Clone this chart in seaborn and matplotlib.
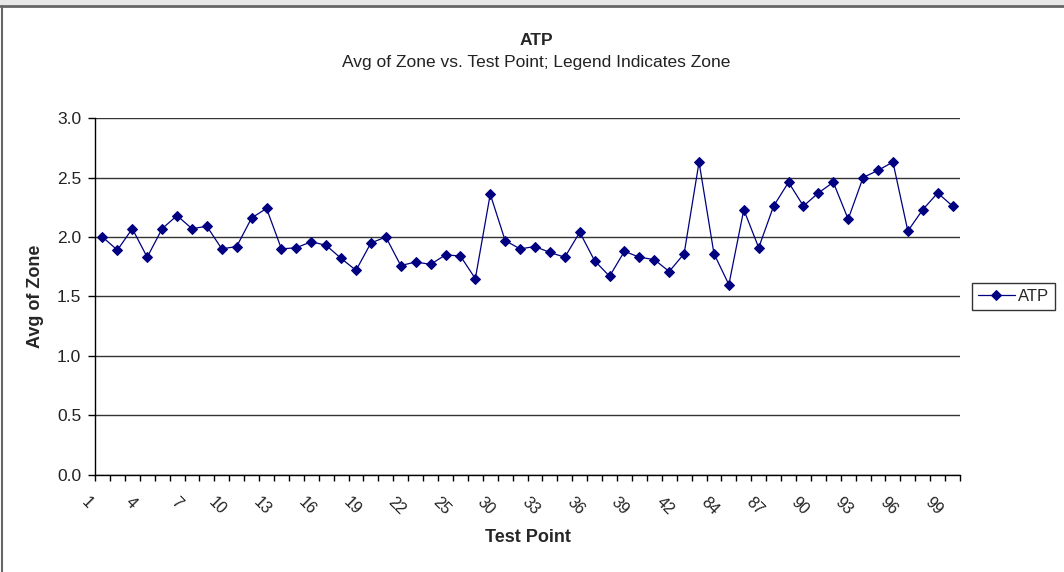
import matplotlib
matplotlib.use("Agg")
import matplotlib.pyplot as plt
import seaborn as sns
import pandas as pd
from matplotlib.lines import Line2D
from matplotlib.patches import Rectangle

# Testpunkte (Kategorien) und Mittelwerte der Zone
test_points = [1, 2, 3, 4, 5, 6, 7, 8, 9, 10, 11, 12, 13, 14, 15, 16, 17, 18, 19, 20,
               21, 22, 23, 24, 25, 26, 28, 30, 31, 32, 33, 34, 35, 36, 37, 38, 39, 40,
               41, 42, 44, 80, 84, 85, 86, 87, 88, 89, 90, 91, 92, 93, 94, 95, 96, 97,
               98, 99]
avg_zone = [2.00, 1.89, 2.07, 1.83, 2.07, 2.18, 2.07, 2.09, 1.90, 1.92,
            2.16, 2.24, 1.90, 1.91, 1.96, 1.93, 1.82, 1.72, 1.95, 2.00,
            1.76, 1.79, 1.77, 1.85, 1.84, 1.65, 2.36, 1.97, 1.90, 1.92,
            1.87, 1.83, 2.04, 1.80, 1.67, 1.88, 1.83, 1.81, 1.71, 1.86,
            2.63, 1.86, 1.60, 2.23, 1.91, 2.26, 2.46, 2.26, 2.37, 2.46,
            2.15, 2.50, 2.56, 2.63, 2.05, 2.23, 2.37, 2.26]
y_ticks = [0.0, 0.5, 1.0, 1.5, 2.0, 2.5, 3.0]

df = pd.DataFrame({"pos": range(len(test_points)), "Test Point": test_points,
                   "Avg of Zone": avg_zone})

sns.set_style("white")
plt.rcParams["font.family"] = ["Liberation Sans", "DejaVu Sans"]

fig = plt.figure(figsize=(10.64, 5.72), dpi=100)
ax = fig.add_axes([0.0893, 0.1696, 0.8130, 0.6241])

sns.lineplot(data=df, x="pos", y="Avg of Zone", ax=ax, color="#000080",
             marker="D", markersize=5.5, markeredgecolor="#000080",
             linewidth=0.9, label="ATP")

n = len(test_points)
ax.set_xlim(-0.5, n - 0.5)
ax.set_ylim(0, 3.0)
ax.set_yticks(y_ticks)
ax.set_yticklabels([f"{v:.1f}" for v in y_ticks], fontsize=12.5, color="#222222")
ax.yaxis.grid(True, color="#333333", linewidth=1.0)
ax.set_axisbelow(True)

# Ticks an Kategoriegrenzen, Beschriftung jede dritte Kategorie
bounds = [k - 0.5 for k in range(n + 1)]
labels = [str(test_points[k]) if (k % 3 == 0 and k < n) else "" for k in range(n + 1)]
ax.set_xticks(bounds)
ax.set_xticklabels(labels, rotation=-45, ha="right", fontsize=11.5, color="#222222")
ax.tick_params(axis="x", direction="out", length=4, width=1, color="black", pad=10, bottom=True)
ax.tick_params(axis="y", direction="out", length=5, width=1, color="black", pad=5, left=True)

for s in ["top", "right"]:
    ax.spines[s].set_visible(False)
for s in ["left", "bottom"]:
    ax.spines[s].set_color("black")
    ax.spines[s].set_linewidth(1.0)

ax.set_xlabel("Test Point", fontsize=13, fontweight="bold", labelpad=8)
ax.set_ylabel("Avg of Zone", fontsize=13, fontweight="bold", labelpad=9)

fig.text(0.504, 0.930, "ATP", ha="center", va="center", fontsize=12.5, fontweight="bold")
fig.text(0.504, 0.891, "Avg of Zone vs. Test Point; Legend Indicates Zone",
         ha="center", va="center", fontsize=12.5, color="#222222")

leg = ax.legend(loc="center left", bbox_to_anchor=(1.014, 0.5), frameon=True,
                fancybox=False, edgecolor="black", fontsize=12, handlelength=2.2,
                handletextpad=0.2, borderpad=0.35, borderaxespad=0)
leg.get_frame().set_linewidth(1.0)

# Rahmen wie im Excel-Screenshot
fig.patches.append(Rectangle((0, 1 - 5 / 572), 1, 5 / 572, transform=fig.transFigure,
                             facecolor="#e8e8e8", edgecolor="none"))
fig.lines.append(Line2D([0, 1], [1 - 6 / 572, 1 - 6 / 572], transform=fig.transFigure,
                        color="#666666", linewidth=2))
fig.lines.append(Line2D([1.5 / 1064, 1.5 / 1064], [0, 1 - 6 / 572], transform=fig.transFigure,
                        color="#666666", linewidth=1.5))

fig.savefig("out.png", dpi=100)
